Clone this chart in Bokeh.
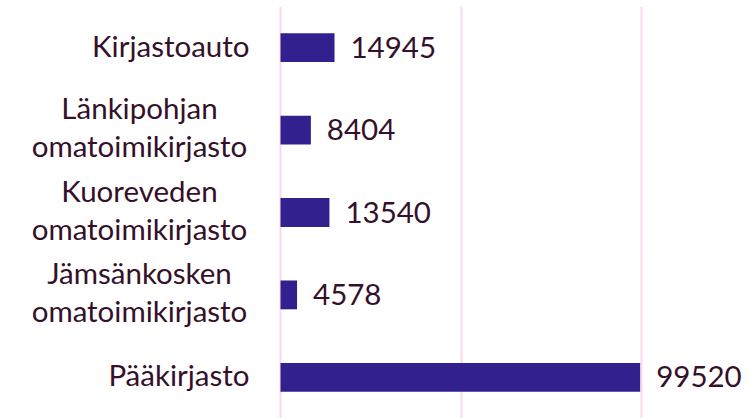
from bokeh.plotting import figure
from bokeh.models import ColumnDataSource, Range1d, FactorRange, FixedTicker, LabelSet
from bokeh.core.properties import value
from bokeh.embed import file_html
from bokeh.resources import INLINE

categories = ["Pääkirjasto", "Jämsänkosken omatoimikirjasto", "Kuoreveden omatoimikirjasto",
              "Länkipohjan omatoimikirjasto", "Kirjastoauto"]
label_lines = [["Pääkirjasto"], ["Jämsänkosken", "omatoimikirjasto"], ["Kuoreveden", "omatoimikirjasto"],
               ["Länkipohjan", "omatoimikirjasto"], ["Kirjastoauto"]]
values = [99520, 4578, 13540, 8404, 14945]
gridlines = [0, 50000, 100000]

TEXT = "#35102a"
BAR = "#33208f"
FONT = "Lato"
FS = "29.5px"

src = ColumnDataSource(dict(cat=categories, val=values, lab=[str(v) for v in values]))

# category label lines: one row per text line
rows = dict(cat=[], txt=[], zero=[], xoff=[], yoff=[], align=[])
for c, lines in zip(categories, label_lines):
    if len(lines) == 1:
        rows["cat"].append(c); rows["txt"].append(lines[0]); rows["zero"].append(0)
        rows["xoff"].append(-31); rows["yoff"].append(-9); rows["align"].append("right")
    else:
        for ln, yo in zip(lines, [11, -27]):
            rows["cat"].append(c); rows["txt"].append(ln); rows["zero"].append(0)
            rows["xoff"].append(-141); rows["yoff"].append(yo); rows["align"].append("center")
cat_src = ColumnDataSource(rows)

p = figure(width=756, height=418, output_backend="svg", toolbar_location=None,
           y_range=FactorRange(*categories, range_padding=0), x_range=Range1d(-77476, 131709),
           min_border_left=0, min_border_right=0, min_border_top=6, min_border_bottom=0)
p.outline_line_color = None
p.hbar(y="cat", right="val", left=0, height=0.35, source=src, fill_color=BAR, line_color=None)

labels = LabelSet(x="val", y="cat", text="lab", source=src, x_offset=16, y_offset=-10,
                  text_baseline="alphabetic",
                  text_font=value(FONT), text_font_size=value(FS), text_color=TEXT)
p.add_layout(labels)

cat_labels = LabelSet(x="zero", y="cat", text="txt", source=cat_src, x_offset="xoff", y_offset="yoff",
                      text_align="align", text_baseline="alphabetic",
                      text_font=value(FONT), text_font_size=value(FS), text_color=TEXT)
p.add_layout(cat_labels)

p.xaxis.visible = False
p.yaxis.visible = False
p.xgrid.ticker = FixedTicker(ticks=gridlines)
p.xgrid.grid_line_color = "#fbd7ee"
p.xgrid.grid_line_width = 2
p.ygrid.grid_line_color = None

open("out.html", "w").write(file_html(p, INLINE))
